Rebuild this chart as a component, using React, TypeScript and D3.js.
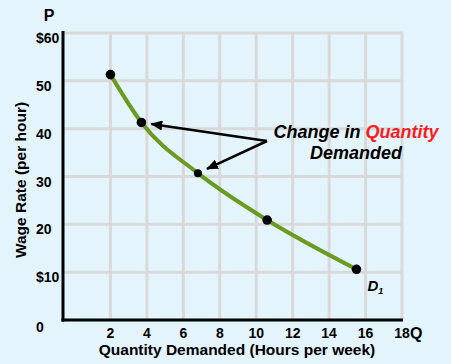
import { useEffect } from 'react';
import * as d3 from 'd3';

// Demand curve for labor: wage rate vs. hours demanded per week
const quantities = [2, 3.7, 6.8, 10.6, 15.5];
const wages = [51.3, 41.3, 30.7, 20.9, 10.6];
const calloutPoints = [1, 2]; // indices the "Change in Quantity Demanded" arrows point to

const xTicks = [2, 4, 6, 8, 10, 12, 14, 16, 18];
const yTicks = [60, 50, 40, 30, 20, 10, 0];
const yTickLabels = ['$60', '50', '40', '30', '20', '$10', '0'];

const W = 451;
const H = 364;
const PLOT = { left: 63, top: 33, right: 402, bottom: 320 } as const;
const X_ZERO_INSET = 11; // the Q origin sits a little right of the P axis
const BG = '#e4f4fc';
const GRID = '#d9d9d9';
const CURVE = '#6a9a1f';
const FONT = 'Liberation Sans, Arial, Helvetica, sans-serif';

export default function App() {
  useEffect(() => {
    document.body.style.margin = '0';
    document.body.style.background = BG;
  }, []);

  const x = d3.scaleLinear().domain([0, 18]).range([PLOT.left + X_ZERO_INSET, PLOT.right]);
  const y = d3.scaleLinear().domain([0, 60]).range([PLOT.bottom, PLOT.top]);

  const pts = quantities.map((q, i) => [x(q), y(wages[i])] as [number, number]);
  const line = d3.line().curve(d3.curveMonotoneX)(pts) ?? '';

  // callout arrows start from a common anchor left of the label
  const anchor: [number, number] = [267, 141];
  const arrows = calloutPoints.map((i) => {
    const [px, py] = pts[i];
    const dx = anchor[0] - px;
    const dy = anchor[1] - py;
    const len = Math.hypot(dx, dy);
    return [px + (dx / len) * 10, py + (dy / len) * 10] as [number, number];
  });

  return (
    <svg width={W} height={H} style={{ display: 'block', background: BG }} fontFamily={FONT}>
      <defs>
        <marker
          id="arrowhead"
          markerUnits="userSpaceOnUse"
          markerWidth={12}
          markerHeight={10}
          refX={11}
          refY={5}
          orient="auto"
        >
          <path d="M0,0 L12,5 L0,10 Z" fill="#000" />
        </marker>
      </defs>
      <rect width={W} height={H} fill={BG} />

      {/* grid */}
      {xTicks.map((t) => (
        <line key={`gx${t}`} x1={x(t)} x2={x(t)} y1={PLOT.top} y2={PLOT.bottom} stroke={GRID} strokeWidth={3} />
      ))}
      {yTicks.filter((t) => t > 0).map((t) => (
        <line key={`gy${t}`} x1={PLOT.left} x2={PLOT.right + 1} y1={y(t)} y2={y(t)} stroke={GRID} strokeWidth={3} />
      ))}

      {/* axes */}
      <line x1={PLOT.left} x2={PLOT.left} y1={PLOT.top - 2} y2={PLOT.bottom + 1.5} stroke="#000" strokeWidth={3} />
      <line x1={PLOT.left - 1.5} x2={PLOT.right + 1} y1={PLOT.bottom} y2={PLOT.bottom} stroke="#000" strokeWidth={3} />

      {/* tick labels */}
      {yTicks.map((t, i) => (
        <text key={`ly${t}`} x={36} y={y(t) + (t === 0 ? 12 : 10)} fontSize={14} fontWeight="bold" fill="#000">
          {yTickLabels[i]}
        </text>
      ))}
      {xTicks.map((t) => (
        <text key={`lx${t}`} x={x(t)} y={338} fontSize={14} fontWeight="bold" textAnchor="middle" fill="#000">
          {t}
        </text>
      ))}
      <text x={410} y={339} fontSize={16} fontWeight="bold" fill="#000">Q</text>
      <text x={49} y={21} fontSize={16} fontWeight="bold" textAnchor="middle" fill="#000">P</text>

      {/* axis titles */}
      <text x={237} y={355} fontSize={15.5} fontWeight="bold" textAnchor="middle" fill="#000">
        Quantity Demanded (Hours per week)
      </text>
      <text
        transform={`translate(26, 180) rotate(-90)`}
        fontSize={15.5}
        fontWeight="bold"
        textAnchor="middle"
        fill="#000"
      >
        Wage Rate (per hour)
      </text>

      {/* demand curve */}
      <path d={line} fill="none" stroke={CURVE} strokeWidth={4} strokeLinecap="round" />
      {pts.map(([px, py], i) => (
        <circle key={`p${i}`} cx={px} cy={py} r={i === 2 ? 4 : 4.8} fill="#000" />
      ))}
      <text x={pts[4][0] + 11} y={pts[4][1] + 22} fontSize={15} fontWeight="bold" fontStyle="italic" fill="#000">
        D<tspan fontSize={9} dy={3}>1</tspan>
      </text>

      {/* callout */}
      {arrows.map(([tx, ty], i) => (
        <line
          key={`a${i}`}
          x1={anchor[0]}
          y1={anchor[1]}
          x2={tx}
          y2={ty}
          stroke="#000"
          strokeWidth={2.5}
          markerEnd="url(#arrowhead)"
        />
      ))}
      <text x={356} y={138} fontSize={18} fontWeight="bold" fontStyle="italic" textAnchor="middle" fill="#000">
        Change in <tspan fill="#ff1a1a">Quantity</tspan>
      </text>
      <text x={356} y={159} fontSize={18} fontWeight="bold" fontStyle="italic" textAnchor="middle" fill="#000">
        Demanded
      </text>
    </svg>
  );
}
